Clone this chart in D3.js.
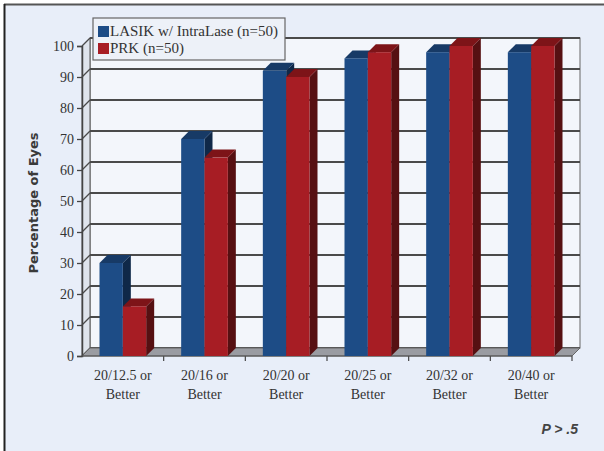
<!DOCTYPE html>
<html>
<head>
<meta charset="utf-8">
<script src="https://cdn.jsdelivr.net/npm/d3@7"></script>
<style>
  html, body { margin: 0; padding: 0; background: #ffffff; }
  svg { display: block; }
</style>
</head>
<body>
<script>
// Visual acuity outcomes, percentage of eyes per threshold
const categories = [["20/12.5 or", "Better"], ["20/16 or", "Better"], ["20/20 or", "Better"],
                    ["20/25 or", "Better"], ["20/32 or", "Better"], ["20/40 or", "Better"]];
const seriesNames = ["LASIK w/ IntraLase (n=50)", "PRK (n=50)"];
const lasik = [30, 70, 92, 96, 98, 98];
const prk = [16, 64, 90, 98, 100, 100];
const yTicks = [0, 10, 20, 30, 40, 50, 60, 70, 80, 90, 100];

const W = 604, H = 451;
const depth = 8; // 3D offset (right and up)
const plot = { left: 82, right: 572, top: 46, bottom: 356 };

const palette = {
  lasik: { front: "#1d4c86", top: "#173a66", side: "#0f2848" },
  prk:   { front: "#a71d24", top: "#7d1418", side: "#561012" }
};

const svg = d3.select("body").append("svg").attr("width", W).attr("height", H);

// panel background and frame (top and left edges)
svg.append("rect").attr("x", 5).attr("y", 5).attr("width", W - 5).attr("height", H - 5).attr("fill", "#e8eef9");
svg.append("line").attr("x1", 4).attr("x2", W).attr("y1", 4.5).attr("y2", 4.5).attr("stroke", "#555").attr("stroke-width", 2);
svg.append("line").attr("x1", 4.5).attr("x2", 4.5).attr("y1", 4).attr("y2", H).attr("stroke", "#222").attr("stroke-width", 2);

const keys = categories.map(c => c.join(" "));
const x = d3.scaleBand().domain(keys).range([plot.left, plot.right]);
const xs = d3.scaleBand().domain(seriesNames).range([0, x.bandwidth()]).paddingOuter(0.75);
const y = d3.scaleLinear().domain([0, 100]).range([plot.bottom, plot.top]);

// back wall
svg.append("rect")
  .attr("x", plot.left + depth).attr("y", plot.top - depth)
  .attr("width", plot.right - plot.left).attr("height", plot.bottom - plot.top)
  .attr("fill", "#f3f6fb").attr("stroke", "#666").attr("stroke-width", 1);

// left side wall
svg.append("path")
  .attr("d", `M${plot.left},${plot.bottom} L${plot.left},${plot.top} L${plot.left + depth},${plot.top - depth} L${plot.left + depth},${plot.bottom - depth} Z`)
  .attr("fill", "#dfe4ec").attr("stroke", "#555").attr("stroke-width", 1);

// gridlines on back wall and side wall
const grid = svg.append("g");
yTicks.forEach(t => {
  const yy = y(t);
  grid.append("line")
    .attr("x1", plot.left + depth).attr("x2", plot.right + depth)
    .attr("y1", yy - depth).attr("y2", yy - depth)
    .attr("stroke", "#4a4a4a").attr("stroke-width", 1.8);
  grid.append("line")
    .attr("x1", plot.left).attr("x2", plot.left + depth)
    .attr("y1", yy).attr("y2", yy - depth)
    .attr("stroke", "#4a4a4a").attr("stroke-width", 1.3);
});

// floor
svg.append("path")
  .attr("d", `M${plot.left},${plot.bottom} L${plot.right},${plot.bottom} L${plot.right + depth},${plot.bottom - depth} L${plot.left + depth},${plot.bottom - depth} Z`)
  .attr("fill", "#9a9ca2").attr("stroke", "#666").attr("stroke-width", 1);

// y axis
const yAxis = d3.axisLeft(y).tickValues(yTicks).tickSize(5).tickPadding(3);
const ya = svg.append("g").attr("transform", `translate(${plot.left},0)`).call(yAxis);
ya.select(".domain").attr("stroke", "#444").attr("stroke-width", 1.5);
ya.selectAll(".tick line").attr("stroke", "#444").attr("stroke-width", 1.3);
ya.selectAll(".tick text").attr("font-family", "'Liberation Serif', 'Times New Roman', serif")
  .attr("font-size", 14).attr("fill", "#333");

// x axis ticks at category boundaries
const xa = svg.append("g");
keys.forEach((k, i) => {
  const bx = x(k) + x.bandwidth();
  xa.append("line").attr("x1", bx).attr("x2", bx).attr("y1", plot.bottom).attr("y2", plot.bottom + 5)
    .attr("stroke", "#444").attr("stroke-width", 1.2);
});
xa.append("line").attr("x1", plot.left).attr("x2", plot.right).attr("y1", plot.bottom).attr("y2", plot.bottom)
  .attr("stroke", "#555").attr("stroke-width", 1.2);

// 3D bars
const series = [
  { name: seriesNames[0], values: lasik, col: palette.lasik },
  { name: seriesNames[1], values: prk, col: palette.prk }
];
const bars = svg.append("g");
keys.forEach((k, i) => {
  series.forEach(s => {
    const x0 = x(k) + xs(s.name), w = xs.bandwidth();
    const yt = y(s.values[i]), yb = y(0);
    const g = bars.append("g");
    // side face
    g.append("path")
      .attr("d", `M${x0 + w},${yb} L${x0 + w},${yt} L${x0 + w + depth},${yt - depth} L${x0 + w + depth},${yb - depth} Z`)
      .attr("fill", s.col.side);
    // top face
    g.append("path")
      .attr("d", `M${x0},${yt} L${x0 + depth},${yt - depth} L${x0 + w + depth},${yt - depth} L${x0 + w},${yt} Z`)
      .attr("fill", s.col.top);
    // front face
    g.append("rect").attr("x", x0).attr("y", yt).attr("width", w).attr("height", yb - yt)
      .attr("fill", s.col.front);
  });
});

// category labels
const labels = svg.append("g")
  .attr("font-family", "'Liberation Serif', 'Times New Roman', serif")
  .attr("font-size", 14).attr("fill", "#333").attr("text-anchor", "middle");
categories.forEach((c, i) => {
  const cx = x(keys[i]) + x.bandwidth() / 2;
  const t = labels.append("text").attr("x", cx).attr("y", 380);
  t.append("tspan").attr("x", cx).attr("dy", 0).text(c[0]);
  t.append("tspan").attr("x", cx).attr("dy", 19).text(c[1]);
});

// y axis title
svg.append("text")
  .attr("transform", `translate(38,${(plot.top + plot.bottom) / 2 + 2}) rotate(-90)`)
  .attr("text-anchor", "middle")
  .attr("font-family", "'DejaVu Sans', Verdana, sans-serif")
  .attr("font-weight", "bold").attr("font-size", 13).attr("fill", "#3a3a3a")
  .text("Percentage of Eyes");

// legend
const lg = svg.append("g");
lg.append("rect").attr("x", 93).attr("y", 18).attr("width", 192).attr("height", 42)
  .attr("fill", "#edf1f8").attr("stroke", "#666").attr("stroke-width", 1.2);
series.forEach((s, i) => {
  const yy = 26 + i * 17;
  lg.append("rect").attr("x", 98).attr("y", yy).attr("width", 11).attr("height", 11).attr("fill", s.col.front);
  lg.append("text").attr("x", 110).attr("y", yy + 10)
    .attr("font-family", "'Liberation Serif', 'Times New Roman', serif")
    .attr("font-size", 15).attr("fill", "#333").text(s.name);
});

// significance note
svg.append("text").attr("x", 578).attr("y", 434).attr("text-anchor", "end")
  .attr("font-family", "'Liberation Sans', Arial, sans-serif")
  .attr("font-style", "italic").attr("font-weight", "bold").attr("font-size", 14).attr("fill", "#444")
  .text("P > .5");
</script>
</body>
</html>
